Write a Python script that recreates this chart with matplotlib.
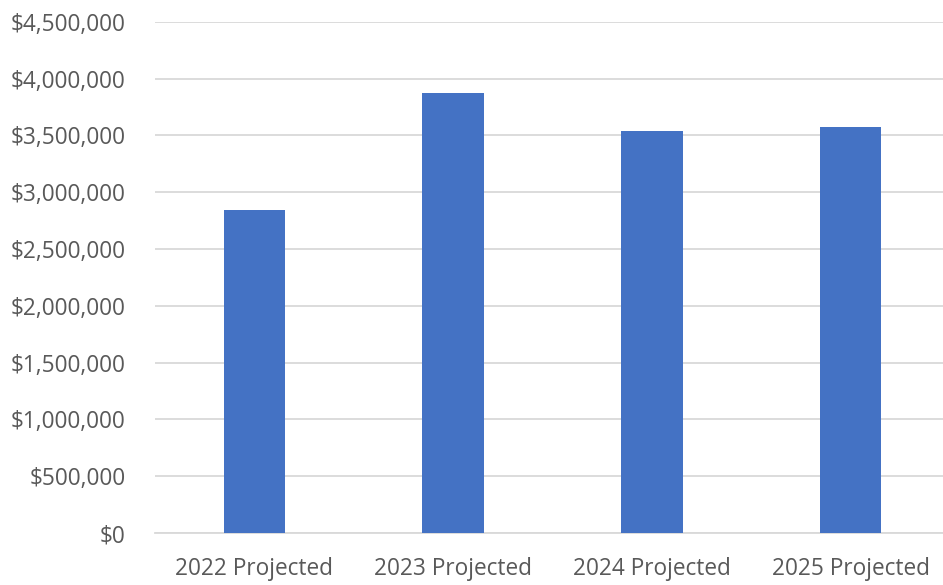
import matplotlib
matplotlib.use("Agg")
import matplotlib.pyplot as plt
from matplotlib.ticker import FuncFormatter, MultipleLocator

categories = ['2022 Projected', '2023 Projected', '2024 Projected', '2025 Projected']
values = [2843000, 3870000, 3541000, 3576000]

plt.rcParams['font.family'] = ['Open Sans', 'DejaVu Sans']

fig = plt.figure(figsize=(9.43, 5.85), dpi=100)
ax = fig.add_axes([155 / 943, 1 - 533 / 585, 795 / 943, (533 - 21.7) / 585])

ax.bar(range(len(categories)), values, width=0.31, color='#4472C4', zorder=3)

ax.set_xlim(-0.5, 3.5)
ax.set_ylim(0, 4500000)
ax.yaxis.set_major_locator(MultipleLocator(500000))
ax.yaxis.set_major_formatter(FuncFormatter(lambda v, p: '${:,.0f}'.format(v)))
ax.set_xticks(range(len(categories)))
ax.set_xticklabels(categories)

ax.grid(axis='y', color='#d9d9d9', linewidth=1.3, zorder=0)
for s in ['top', 'right', 'left']:
    ax.spines[s].set_visible(False)
ax.spines['bottom'].set_color('#d9d9d9')
ax.spines['bottom'].set_linewidth(1.3)

ax.tick_params(axis='both', length=0, labelsize=16.3, labelcolor='#595959')
ax.tick_params(axis='y', pad=21)
ax.tick_params(axis='x', pad=17)

fig.savefig('out.png', dpi=100)
